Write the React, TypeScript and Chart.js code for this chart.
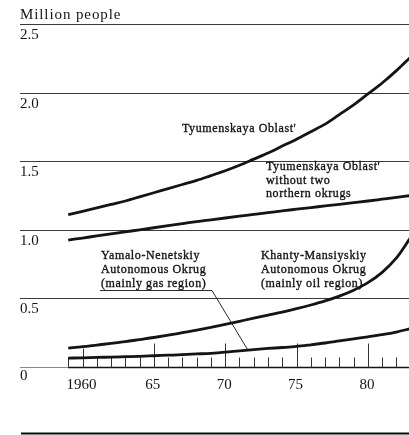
import React, { useEffect, useRef } from "react";
import { Chart, registerables } from "chart.js";

Chart.register(...registerables);

// ---- data ----
const YEARS = [1959, 1960, 1961, 1962, 1963, 1964, 1965, 1966, 1967, 1968, 1969, 1970, 1971, 1972, 1973, 1974, 1975, 1976, 1977, 1978, 1979, 1980, 1981, 1982, 1983];
const TYUMEN = [1.11, 1.135, 1.16, 1.185, 1.21, 1.24, 1.27, 1.3, 1.33, 1.36, 1.395, 1.43, 1.47, 1.515, 1.56, 1.61, 1.66, 1.715, 1.77, 1.84, 1.91, 1.99, 2.07, 2.16, 2.26];
const TYUMEN_SOUTH = [0.925, 0.94, 0.955, 0.97, 0.985, 1.0, 1.015, 1.03, 1.045, 1.06, 1.073, 1.086, 1.099, 1.112, 1.125, 1.138, 1.15, 1.162, 1.174, 1.186, 1.198, 1.21, 1.223, 1.236, 1.25];
const KHANTY = [0.138, 0.148, 0.16, 0.172, 0.185, 0.2, 0.215, 0.232, 0.25, 0.268, 0.288, 0.31, 0.333, 0.356, 0.378, 0.4, 0.425, 0.452, 0.482, 0.517, 0.56, 0.615, 0.69, 0.795, 0.945];
const YAMALO = [0.065, 0.067, 0.07, 0.072, 0.075, 0.078, 0.082, 0.086, 0.09, 0.095, 0.1, 0.108, 0.118, 0.127, 0.135, 0.142, 0.15, 0.162, 0.175, 0.19, 0.205, 0.22, 0.236, 0.255, 0.28];

const Y_TICKS = [0, 0.5, 1, 1.5, 2, 2.5];
const Y_TICK_LABELS = ["0", "0.5", "1.0", "1.5", "2.0", "2.5"];
const X_TICK_YEARS = [1959, 1960, 1961, 1962, 1963, 1964, 1965, 1966, 1967, 1968, 1969, 1970, 1971, 1972, 1973, 1974, 1975, 1976, 1977, 1978, 1979, 1980, 1981, 1982];
const X_MAJOR = [1960, 1965, 1970, 1975, 1980];
const X_MAJOR_LABELS = ["1960", "65", "70", "75", "80"];
const UNIT_LABEL = "Million people";

const X_MIN = 1955.62;
const X_MAX = 1982.88;

const toPts = (vals: number[]) => YEARS.map((y, i) => ({ x: y, y: vals[i] }));

const SERIF = "'Liberation Serif', 'Times New Roman', serif";
const INK = "#141414";

const decorPlugin = {
  id: "decor",
  beforeDatasetsDraw(chart: any) {
    const { ctx, chartArea, scales } = chart;
    const xs = scales.x;
    const ys = scales.y;
    ctx.save();
    // horizontal grid lines
    ctx.strokeStyle = "#3a3a3a";
    ctx.lineWidth = 1;
    Y_TICKS.forEach((v) => {
      if (v === 0) return;
      const py = Math.round(ys.getPixelForValue(v)) + 0.5;
      ctx.beginPath();
      ctx.moveTo(chartArea.left, py);
      ctx.lineTo(chartArea.right, py);
      ctx.stroke();
    });
    // baseline
    const y0 = Math.round(ys.getPixelForValue(0)) + 0.5;
    const xStart = xs.getPixelForValue(X_TICK_YEARS[0]);
    ctx.strokeStyle = "#8a8a8a";
    ctx.beginPath();
    ctx.moveTo(chartArea.left, y0);
    ctx.lineTo(xStart, y0);
    ctx.stroke();
    ctx.strokeStyle = INK;
    ctx.lineWidth = 1.4;
    ctx.beginPath();
    ctx.moveTo(xStart, y0);
    ctx.lineTo(chartArea.right, y0);
    ctx.stroke();
    // x ticks (upward)
    ctx.strokeStyle = "#333";
    ctx.lineWidth = 1;
    X_TICK_YEARS.forEach((yr) => {
      const px = Math.round(xs.getPixelForValue(yr)) + 0.5;
      const major = X_MAJOR.includes(yr);
      const h = major ? (yr === 1960 ? 19 : 24) : 10;
      ctx.beginPath();
      ctx.moveTo(px, y0);
      ctx.lineTo(px, y0 - h);
      ctx.stroke();
    });
    ctx.restore();
  },
  afterDatasetsDraw(chart: any) {
    const { ctx, chartArea, scales } = chart;
    const xs = scales.x;
    const ys = scales.y;
    ctx.save();
    ctx.fillStyle = INK;
    ctx.strokeStyle = INK;
    ctx.textBaseline = "alphabetic";
    // unit label
    ctx.font = `15px ${SERIF}`;
    ctx.textAlign = "left";
    (ctx as any).letterSpacing = "0.9px";
    ctx.fillText(UNIT_LABEL, chartArea.left, 19);
    (ctx as any).letterSpacing = "0px";
    // y labels (below each grid line)
    ctx.font = `15px ${SERIF}`;
    Y_TICKS.forEach((v, i) => {
      const py = ys.getPixelForValue(v);
      ctx.fillText(Y_TICK_LABELS[i], chartArea.left, py + (v === 0 ? 13 : 15));
    });
    // x labels
    ctx.textAlign = "center";
    X_MAJOR.forEach((yr, i) => {
      const px = xs.getPixelForValue(yr);
      ctx.fillText(X_MAJOR_LABELS[i], px - 1, ys.getPixelForValue(0) + 22);
    });
    // annotations (slightly heavier)
    ctx.textAlign = "left";
    ctx.font = `12px ${SERIF}`;
    (ctx as any).letterSpacing = "0.6px";
    ctx.lineWidth = 0.35;
    const block = (lines: string[], x: number, y: number, lh: number) => {
      lines.forEach((t, i) => {
        ctx.fillText(t, x, y + i * lh);
        ctx.strokeText(t, x, y + i * lh);
      });
    };
    block(["Tyumenskaya Oblast'"], 182, 132, 13.5);
    block(["Tyumenskaya Oblast'", "without two", "northern okrugs"], 266, 170, 13.5);
    block(["Yamalo-Nenetskiy", "Autonomous Okrug", "(mainly gas region)"], 101, 259, 14);
    block(["Khanty-Mansiyskiy", "Autonomous Okrug", "(mainly oil region)"], 261, 259, 14);
    (ctx as any).letterSpacing = "0px";
    // underline + pointer to Yamalo curve
    ctx.lineWidth = 0.9;
    ctx.beginPath();
    ctx.moveTo(100, 290.5);
    ctx.lineTo(212, 290.5);
    ctx.lineTo(xs.getPixelForValue(1971.55), ys.getPixelForValue(0.13));
    ctx.stroke();
    // bottom rule
    ctx.lineWidth = 2.2;
    ctx.strokeStyle = "#0a0a0a";
    ctx.beginPath();
    ctx.moveTo(21, 433.5);
    ctx.lineTo(409, 433.5);
    ctx.stroke();
    ctx.restore();
  },
};

export default function App() {
  const ref = useRef<HTMLCanvasElement | null>(null);
  useEffect(() => {
    if (!ref.current) return;
    const ds = (data: number[]) => ({
      data: toPts(data),
      borderColor: INK,
      borderWidth: 2.8,
      pointRadius: 0,
      fill: false,
      cubicInterpolationMode: "monotone" as const,
      borderCapStyle: "butt" as const,
    });
    const chart = new Chart(ref.current, {
      type: "line",
      data: {
        datasets: [ds(TYUMEN), ds(TYUMEN_SOUTH), ds(KHANTY), ds(YAMALO)],
      },
      options: {
        responsive: false,
        animation: false,
        layout: { padding: { left: 20, right: 0, top: 24, bottom: 68 } },
        scales: {
          x: { type: "linear", min: X_MIN, max: X_MAX, display: false },
          y: { type: "linear", min: 0, max: 2.5, display: false },
        },
        plugins: { legend: { display: false }, tooltip: { enabled: false } },
      },
      plugins: [decorPlugin],
    });
    return () => chart.destroy();
  }, []);
  return (
    <div style={{ position: "absolute", left: 0, top: 0, width: 409, height: 435, background: "#fff" }}>
      <canvas ref={ref} width={409} height={435} style={{ display: "block" }} />
    </div>
  );
}
